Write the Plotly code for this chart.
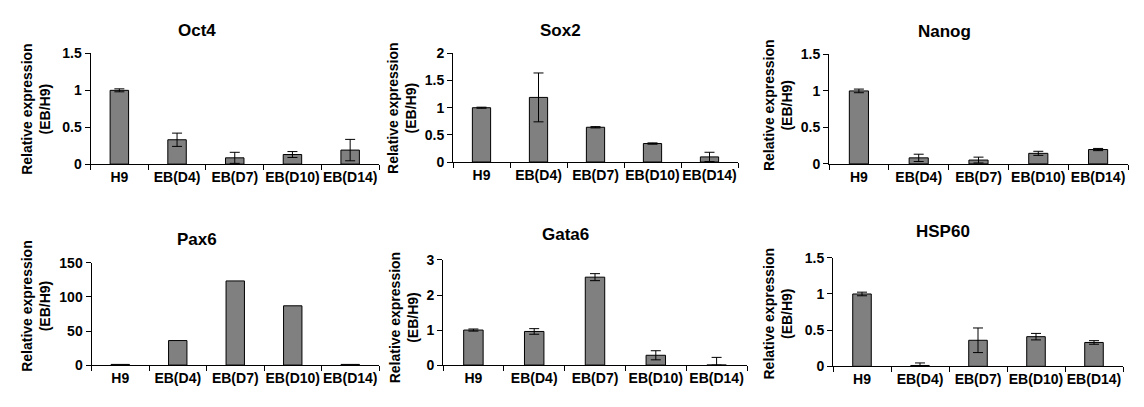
import plotly.graph_objects as go

categories = ["H9", "EB(D4)", "EB(D7)", "EB(D10)", "EB(D14)"]

titles = ["Oct4", "Sox2", "Nanog", "Pax6", "Gata6", "HSP60"]

oct4 = [1.0, 0.33, 0.085, 0.13, 0.19]
oct4_err = [0.02, 0.09, 0.075, 0.04, 0.145]
sox2 = [1.0, 1.19, 0.64, 0.34, 0.094]
sox2_err = [0.01, 0.45, 0.012, 0.012, 0.085]
nanog = [1.0, 0.083, 0.053, 0.145, 0.197]
nanog_err = [0.025, 0.05, 0.04, 0.028, 0.015]
pax6 = [1.0, 36.0, 123.5, 87.0, 1.0]
pax6_err = [0, 0, 0, 0, 0]
gata6 = [1.0, 0.96, 2.51, 0.28, 0.0]
gata6_err = [0.03, 0.08, 0.1, 0.13, 0.22]
hsp60 = [1.0, 0.012, 0.36, 0.41, 0.33]
hsp60_err = [0.025, 0.035, 0.17, 0.045, 0.025]

y_max = [1.5, 2, 1.5, 150, 3, 1.5]
y_dtick = [0.5, 0.5, 0.5, 50, 1, 0.5]

values = [oct4, sox2, nanog, pax6, gata6, hsp60]
errors = [oct4_err, sox2_err, nanog_err, pax6_err, gata6_err, hsp60_err]

W, H = 1144, 407
# plot areas in pixels: (x0, x1, ytop, ybottom)
boxes = [
    (90.5, 379, 47.3, 162.5),
    (453, 738, 47.3, 160.3),
    (829, 1128, 48.3, 162.3),
    (91.5, 379, 265.3, 371.7),
    (443, 747, 262.3, 371.7),
    (833, 1123, 260, 373),
]
title_pos = [(197, 23), (560, 23), (944, 24), (197, 241), (565, 236), (943, 233)]
ylab_pos = [(36, 105), (402, 104), (778, 101), (36, 310), (404, 322), (778, 318)]

FONT = "Liberation Sans, Arial, sans-serif"

fig = go.Figure()
layout = dict(
    width=W, height=H, margin=dict(l=0, r=0, t=0, b=0),
    plot_bgcolor="white", paper_bgcolor="white", showlegend=False,
    font=dict(family=FONT, size=14, color="black"),
    annotations=[],
)

for i in range(6):
    ax = "" if i == 0 else str(i + 1)
    x0, x1, yt, yb = boxes[i]
    vals = values[i]
    errs = errors[i]
    show_err = any(e > 0 for e in errs)
    fig.add_trace(go.Bar(
        x=categories, y=vals,
        xaxis="x" + ax, yaxis="y" + ax,
        width=0.32,
        marker=dict(color="#808080", line=dict(color="black", width=1)),
        error_y=dict(type="data", array=errs,
                     arrayminus=[min(e, v) for e, v in zip(errs, vals)],
                     visible=show_err, color="black", thickness=1, width=5),
    ))
    layout["xaxis" + ax] = dict(
        domain=[x0 / W, x1 / W], anchor="y" + ax, type="category",
        range=[-0.5, 4.5], showline=True, linecolor="black", linewidth=1,
        ticks="outside", tickson="boundaries", ticklen=5, tickcolor="black",
        tickangle=0,
        tickfont=dict(family=FONT, size=14, weight="bold"),
        showgrid=False, zeroline=False, fixedrange=True,
    )
    layout["yaxis" + ax] = dict(
        domain=[1 - yb / H, 1 - yt / H], anchor="x" + ax,
        range=[0, y_max[i]], dtick=y_dtick[i], tick0=0,
        showline=True, linecolor="black", linewidth=1,
        ticks="outside", ticklen=5, tickcolor="black",
        tickfont=dict(family=FONT, size=14, weight="bold"),
        showgrid=False, zeroline=False,
    )
    tx, ty = title_pos[i]
    layout["annotations"].append(dict(
        text=titles[i], x=tx / W, y=1 - ty / H, xref="paper", yref="paper",
        showarrow=False, xanchor="center", yanchor="middle",
        font=dict(family=FONT, size=17, weight="bold"),
    ))
    lx, ly = ylab_pos[i]
    layout["annotations"].append(dict(
        text="Relative expression<br>(EB/H9)", x=lx / W, y=1 - ly / H,
        xref="paper", yref="paper", showarrow=False, textangle=-90,
        xanchor="center", yanchor="middle",
        font=dict(family=FONT, size=14, weight="bold"),
    ))

fig.update_layout(**layout)
fig.write_html("out.html", config={"displayModeBar": False},
               post_script="document.body.style.margin='0';")
